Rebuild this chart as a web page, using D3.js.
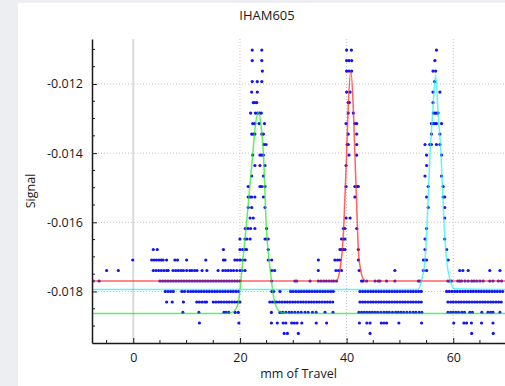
<!DOCTYPE html>
<html><head><meta charset="utf-8">
<script src="https://cdn.jsdelivr.net/npm/d3@7/dist/d3.min.js"></script>
<style>body{margin:0;background:#eceef1;overflow:hidden}svg{display:block}</style>
</head><body>
<svg id="chart" width="505" height="386"></svg>
<script>
// ---------- data ----------
const title = "IHAM605";
const xLabel = "mm of Travel";
const yLabel = "Signal";
const xTickValues = [0, 20, 40, 60];
const yTickValues = [-0.012, -0.014, -0.016, -0.018];

// quantised signal levels (one per row of dots)
const rowLevels = [-0.01102,-0.011323,-0.011627,-0.01193,-0.012234,-0.012537,-0.012841,-0.013144,
 -0.013448,-0.013751,-0.014055,-0.014358,-0.014662,-0.014965,-0.015269,-0.015572,-0.015876,-0.016179,
 -0.016483,-0.016786,-0.01709,-0.017393,-0.017697,-0.018,-0.018304,-0.018607,-0.018911,-0.019214];

// mm positions of the measured points in each row
const rowX = [
 [22.3,24.1,40.0,40.9,56.85],
 [22.3,24.1,40.0,40.45,40.95,56.55],
 [24.2,40.0,40.45,40.95,56.2,56.7],
 [22.3,23.25,24.1,56.5],
 [22.2,23.25,40.0,40.65,56.2,57.5],
 [22.5,22.8,23.15,40.3,40.5,56.2],
 [22.0,22.9,23.3,23.7,24.0,40.3,41.25,56.25,56.55,56.85,57.15],
 [22.4,22.8,23.6,24.6,39.9,41.55,41.9,55.9,56.25,56.55,56.85,57.8],
 [22.2,22.5,22.8,24.1,24.4,40.3,41.9,55.9,57.5],
 [24.5,24.9,40.1,40.3,41.9,54.7,55.6,55.9,56.85,57.5],
 [22.4,23.75,24.1,24.4,40.45,41.9,55.0,57.8],
 [22.8,23.75,24.7,39.9,55.0],
 [22.2,24.4,54.7,57.8],
 [21.55,23.75,24.1,24.7,39.9,41.55,41.9,42.2,55.3,58.1],
 [21.55,21.9,22.2,22.8,24.4,41.55,55.0,58.1,58.4],
 [21.55,22.2,24.7,55.3,58.4],
 [21.9,22.5,39.9,40.65,58.4],
 [21.0,21.5,22.0,22.8,25.0,39.4,39.7,41.9,55.0],
 [20.0,20.95,21.3,21.9,24.7,25.0,25.3,39.05,39.4,39.7,54.7,58.4],
 [3.75,4.5,16.9,20.0,20.5,20.95,21.25,25.3,38.75,39.05,39.4,39.7,42.2,54.7,58.75],
 [-0.1,3.45,3.9,4.35,4.8,5.25,5.6,6.25,7.8,8.3,10.0,13.6,16.9,17.2,19.05,19.5,20.0,20.5,20.95,25.3,25.95,
  34.7,37.8,38.3,38.75,42.2,54.4,54.7,55.0,59.05],
 [-5.0,-2.8,3.75,4.25,4.75,5.25,5.75,6.25,6.55,7.45,7.95,8.45,8.95,9.4,10.0,10.6,11.0,11.5,11.95,12.9,13.8,
  15.9,16.8,17.3,17.8,18.3,18.8,19.4,20.0,20.4,20.95,25.95,26.5,34.7,38.0,38.5,39.05,42.35,49.05,54.4,55.0,
  61.2,61.8,62.8,66.85,68.75],
 [-7.5,-6.4,5.0,5.5,6.0,6.5,7.0,7.5,8.0,8.5,9.0,9.5,10.0,10.5,11.0,11.5,12.0,12.5,13.0,13.5,14.0,14.5,15.0,
  15.5,16.0,16.5,17.0,17.5,18.0,18.5,19.0,19.5,20.0,25.95,30.3,30.65,33.15,34.7,35.2,35.7,36.2,36.7,37.2,37.6,
  38.1,42.8,43.1,43.75,45.35,45.95,46.25,47.5,49.05,53.45,53.75,59.0,59.35,59.65,60.85,61.2,61.55,62.2,62.8,
  63.45,63.9,64.4,65.0,65.6,66.85,67.45,68.45,69.05],
 [6.0,6.5,7.0,7.5,9.1,9.6,10.25,10.75,11.25,11.75,12.25,12.75,13.25,13.75,14.25,14.75,15.25,15.75,16.25,16.75,
  17.25,17.75,18.25,18.75,19.25,19.75,26.0,26.3,27.5,29.5,30.0,30.5,31.0,31.5,32.0,32.5,33.0,33.5,34.0,34.5,
  35.0,35.5,36.0,36.5,37.0,37.5,42.5,43.0,43.5,44.0,44.5,45.0,45.5,46.0,46.5,47.0,47.5,48.0,48.5,49.0,49.5,
  50.0,50.5,51.0,51.5,52.0,52.5,53.0,53.5,54.0,58.75,59.25,59.75,60.25,60.75,61.25,61.75,62.25,62.75,63.25,
  63.75,64.25,64.75,65.25,65.75,66.25,66.75,67.25,67.75,68.25,68.75,69.25],
 [6.25,7.3,9.4,11.9,12.4,12.9,13.4,13.75,15.0,15.5,16.0,16.5,17.0,17.5,18.0,18.5,19.0,19.5,20.0,25.6,26.1,
  26.55,26.9,27.4,27.9,28.4,28.9,29.4,29.9,30.4,30.9,31.4,31.9,32.4,32.9,33.4,33.9,34.4,34.9,35.4,35.9,36.4,
  36.9,37.4,42.5,43.0,43.5,44.0,44.5,45.0,45.5,46.0,46.5,47.0,47.5,48.0,48.5,49.0,49.5,50.0,50.5,51.0,51.5,
  52.0,52.5,53.0,53.5,54.0,59.0,59.5,60.0,60.5,61.0,61.5,62.0,62.5,63.0,63.5,64.0,64.5,65.0,65.5,66.0,66.5,
  67.0,67.5,68.0,68.5,69.0],
 [9.3,12.3,17.0,17.4,17.9,19.1,19.7,25.9,27.5,28.0,28.6,29.2,29.7,30.3,30.9,31.5,32.2,32.8,33.6,34.3,35.95,
  37.45,42.3,42.8,43.3,43.8,44.3,44.8,45.3,45.8,46.4,47.0,47.5,48.0,48.6,49.2,49.7,50.2,50.7,51.3,51.9,52.5,
  53.0,53.6,54.1,59.0,59.5,60.0,60.5,61.0,61.6,62.1,63.1,63.6,65.35,66.5,67.0,67.45,68.75],
 [12.4,19.8,25.9,27.0,28.1,28.6,29.7,30.2,30.7,31.6,34.3,36.25,42.4,43.8,44.4,46.5,47.0,47.5,49.8,54.05,
  60.1,62.0,62.5,63.4,65.3,67.45],
 [28.3,28.9,30.95,44.4,63.45,67.5]
];

// fitted peak curves [mm, signal]
const greenFit = [[-7.8,-0.01864],[17.2,-0.01864],[18.7,-0.01859],[19.7,-0.01833],[20.3,-0.01748],
 [21.25,-0.016],[22.4,-0.01402],[22.9,-0.0132],[23.45,-0.01282],[23.95,-0.0132],[24.4,-0.01402],
 [24.9,-0.016],[25.75,-0.01748],[26.55,-0.01833],[27.7,-0.01861],[29.4,-0.01864],[70,-0.01864]];
const redFit = [[-7.8,-0.0177],[36.5,-0.0177],[38.1,-0.01769],[38.75,-0.01737],[39.2,-0.01678],
 [39.5,-0.016],[40.0,-0.01402],[40.3,-0.01267],[40.8,-0.01164],[41.25,-0.01267],[41.55,-0.01402],
 [42.0,-0.016],[42.2,-0.01678],[42.65,-0.01739],[43.2,-0.01765],[43.75,-0.0177],[70,-0.0177]];
const cyanFit = [[-7.8,-0.01794],[53.4,-0.01794],[54.05,-0.01767],[54.7,-0.01709],[55.1,-0.016],
 [55.65,-0.01402],[56.15,-0.01283],[56.7,-0.01174],[57.15,-0.01283],[57.7,-0.01402],[58.25,-0.016],
 [58.75,-0.01709],[59.4,-0.01767],[60.2,-0.01792],[70,-0.01794]];
const fits = [
  {name:"fit3", pts: greenFit, color:"#22e622"},
  {name:"fit1", pts: redFit, color:"#ff2020"},
  {name:"fit2", pts: cyanFit, color:"#22f0f0"}
];

// ---------- drawing ----------
const svg = d3.select("#chart");
const L = 92, R = 505, T = 39, B = 343;

svg.append("rect").attr("x",18).attr("y",3).attr("width",505-18).attr("height",386-3).attr("fill","#ffffff");

const x = d3.scaleLinear().domain([-7.74, 69.7]).range([L, R]);
const y = d3.scaleLinear().domain([-0.01949, -0.0107]).range([B, T]);

svg.append("defs").append("clipPath").attr("id","clip")
  .append("rect").attr("x",L).attr("y",T).attr("width",R-L).attr("height",B-T);

const grid = svg.append("g");
grid.selectAll(".hg").data(yTickValues).join("line")
  .attr("x1",L).attr("x2",R).attr("y1",d=>y(d)).attr("y2",d=>y(d))
  .attr("stroke","#c4c4c4").attr("stroke-width",1).attr("stroke-dasharray","1,2");
grid.selectAll(".vg").data(xTickValues.filter(d=>d!==0)).join("line")
  .attr("x1",d=>x(d)).attr("x2",d=>x(d)).attr("y1",T).attr("y2",B)
  .attr("stroke","#c4c4c4").attr("stroke-width",1).attr("stroke-dasharray","1,2");
grid.append("line").attr("x1",x(0)).attr("x2",x(0)).attr("y1",T).attr("y2",B)
  .attr("stroke","#dadada").attr("stroke-width",2);

const plot = svg.append("g").attr("clip-path","url(#clip)");

// dots
const pts = [];
rowX.forEach((xs,i)=>xs.forEach(v=>pts.push([v,rowLevels[i]])));
plot.selectAll("circle").data(pts).join("circle")
  .attr("cx",d=>x(d[0])).attr("cy",d=>y(d[1])).attr("r",1.6)
  .attr("fill","#1414f0");

// fitted lines
const line = d3.line().x(d=>x(d[0])).y(d=>y(d[1])).curve(d3.curveMonotoneX);
plot.selectAll("path.fit").data(fits).join("path").attr("class","fit")
  .attr("d",d=>line(d.pts)).attr("fill","none")
  .attr("stroke",d=>d.color).attr("stroke-width",1.5).attr("stroke-opacity",0.7);

// axes
const font = "'Open Sans', 'Noto Sans', sans-serif";
const xAxis = d3.axisBottom(x).tickValues(xTickValues).tickSizeInner(-5).tickSizeOuter(0).tickPadding(10).tickFormat(d3.format("d"));
const gx = svg.append("g").attr("transform",`translate(0,${B})`).call(xAxis);
const yAxis = d3.axisLeft(y).tickValues(yTickValues).tickSizeInner(-5).tickSizeOuter(0).tickPadding(9)
  .tickFormat(d=>d.toFixed(3));
const gy = svg.append("g").attr("transform",`translate(${L},0)`).call(yAxis);
[gx,gy].forEach(g=>{
  g.select(".domain").attr("stroke","#1a1a1a").attr("stroke-width",1.5);
  g.selectAll(".tick line").attr("stroke","#1a1a1a");
  g.selectAll("text").attr("font-family",font).attr("font-size",12.5).attr("fill","#1a1a1a");
});

// minor ticks
const xMinor = d3.range(-5, 70, 5).filter(d=>!xTickValues.includes(d));
svg.append("g").selectAll("line").data(xMinor).join("line")
  .attr("x1",d=>x(d)).attr("x2",d=>x(d)).attr("y1",B).attr("y2",B-3)
  .attr("stroke","#1a1a1a");
const yMinor = d3.range(-0.0195, -0.0107, 0.0005).filter(v=>!yTickValues.some(t=>Math.abs(t-v)<1e-7) && v> -0.01949);
svg.append("g").selectAll("line").data(yMinor).join("line")
  .attr("x1",L).attr("x2",L+3).attr("y1",d=>y(d)).attr("y2",d=>y(d))
  .attr("stroke","#1a1a1a");

// labels
svg.append("text").attr("x",267).attr("y",20).attr("text-anchor","middle")
  .attr("font-family",font).attr("font-size",13).attr("fill","#1a1a1a").text(title);
svg.append("text").attr("x",(L+R)/2).attr("y",378).attr("text-anchor","middle")
  .attr("font-family",font).attr("font-size",12.5).attr("fill","#1a1a1a").text(xLabel);
svg.append("text").attr("transform",`translate(35,${(T+B)/2}) rotate(-90)`).attr("text-anchor","middle")
  .attr("font-family",font).attr("font-size",12.5).attr("fill","#1a1a1a").text(yLabel);
</script>
</body></html>
